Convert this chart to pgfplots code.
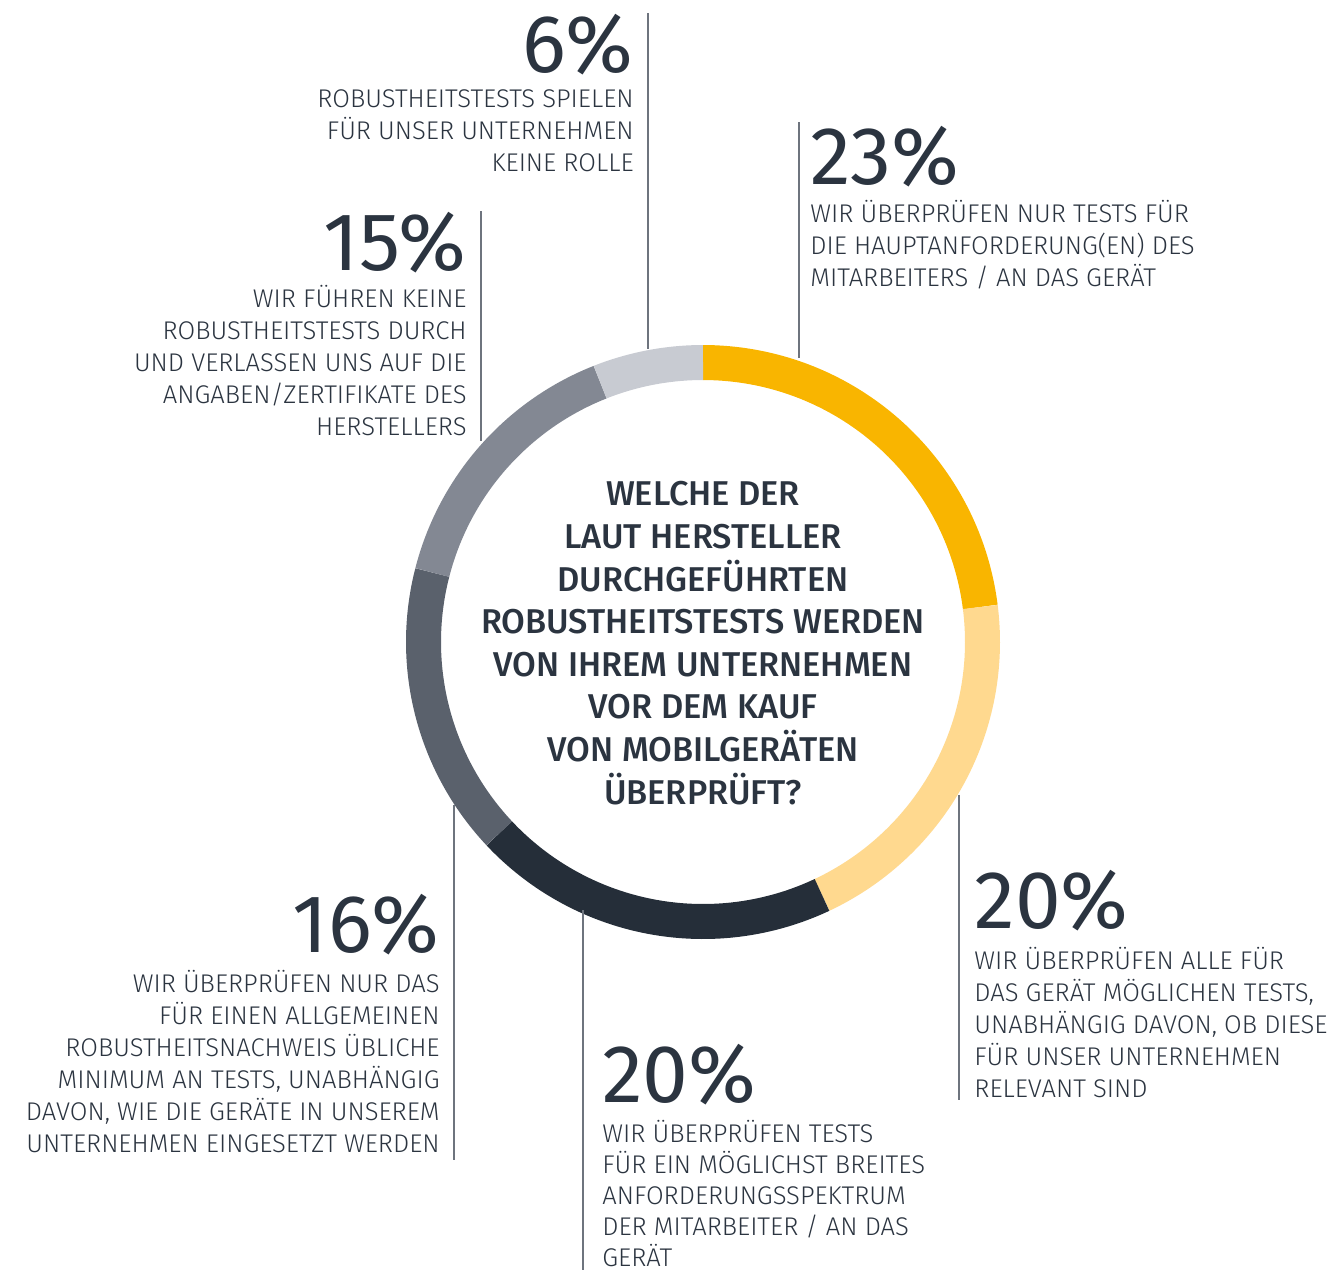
\documentclass[border=0pt]{standalone}
\usepackage{pgfplots}
\pgfplotsset{compat=1.18}
\usepgfplotslibrary{polar}
\usepackage{fontspec}
\setmainfont{Fira Sans}[UprightFont={* Light},BoldFont={* Medium}]
\newfontfamily\numfont{Fira Sans}
\definecolor{cA}{HTML}{F9B500}
\definecolor{cB}{HTML}{FFD98F}
\definecolor{cC}{HTML}{252E39}
\definecolor{cD}{HTML}{5A616C}
\definecolor{cE}{HTML}{838893}
\definecolor{cF}{HTML}{C8CBD2}
\definecolor{txt}{HTML}{2B3440}
\definecolor{ln}{HTML}{6E747E}
\tikzset{lab/.style={inner sep=0pt,text=txt,font=\fontsize{12.8}{16}\selectfont},
 big/.style={inner sep=0pt,text=txt,font=\numfont\fontsize{41}{41}\selectfont},
 ctr/.style={inner sep=0pt,text=txt,font=\bfseries\fontsize{17.2}{20}\selectfont}}
\newcommand\Lr[3]{\node[anchor=base east,lab] at (#1,#2) {#3};}
\newcommand\Ll[3]{\node[anchor=base west,lab] at (#1,#2) {#3};}
\newcommand\Cc[2]{\node[anchor=base,ctr] at (703,#1) {#2};}
\begin{document}
\begin{tikzpicture}
\path[use as bounding box] (0pt,0pt) rectangle (664pt,-635pt);
\begin{polaraxis}[at={(351.5pt,-321pt)},anchor=center,width=297pt,height=297pt,scale only axis,
  hide axis,xmin=0,xmax=360,ymin=0,ymax=297,clip=false]
% shares in percent: 23, 20, 20, 16, 15, 6 (clockwise from top); 1% = 3.6 degrees
\addplot[no markers,line width=17.5pt,color=cA,domain=7.2:90,samples=80] {279.5};
\addplot[no markers,line width=17.5pt,color=cB,domain=-64.8:7.2,samples=80] {279.5};
\addplot[no markers,line width=17.5pt,color=cC,domain=-136.8:-64.8,samples=80] {279.5};
\addplot[no markers,line width=17.5pt,color=cD,domain=-194.4:-136.8,samples=80] {279.5};
\addplot[no markers,line width=17.5pt,color=cE,domain=-248.4:-194.4,samples=80] {279.5};
\addplot[no markers,line width=17.5pt,color=cF,domain=-270:-248.4,samples=30] {279.5};
\end{polaraxis}
\begin{scope}[x=0.5pt,y=-0.5pt]
% leader lines
\draw[ln,line width=1pt] (648,13) -- (648,349);
\draw[ln,line width=1pt] (799,122) -- (799,358);
\draw[ln,line width=1pt] (481,211) -- (481,441);
\draw[ln,line width=1pt] (454,805) -- (454,1160);
\draw[ln,line width=1pt] (959,795) -- (959,1100);
\draw[ln,line width=1pt] (583,910) -- (583,1270);
% 6%
\node[anchor=base east,big] at (634,72) {6\%};
\Lr{634}{107}{ROBUSTHEITSTESTS SPIELEN}
\Lr{634}{139}{FÜR UNSER UNTERNEHMEN}
\Lr{634}{171}{KEINE ROLLE}
% 23%
\node[anchor=base west,big] at (810,184) {23\%};
\Ll{810}{222}{WIR ÜBERPRÜFEN NUR TESTS FÜR}
\Ll{810}{254}{DIE HAUPTANFORDERUNG(EN) DES}
\Ll{810}{286}{MITARBEITERS / AN DAS GERÄT}
% 15%
\node[anchor=base east,big] at (467,270) {15\%};
\Lr{467}{307}{WIR FÜHREN KEINE}
\Lr{467}{339}{ROBUSTHEITSTESTS DURCH}
\Lr{467}{371}{UND VERLASSEN UNS AUF DIE}
\Lr{467}{403}{ANGABEN/ZERTIFIKATE DES}
\Lr{467}{435}{HERSTELLERS}
% 16%
\node[anchor=base east,big] at (440,952) {16\%};
\Lr{440}{992}{WIR ÜBERPRÜFEN NUR DAS}
\Lr{440}{1024}{FÜR EINEN ALLGEMEINEN}
\Lr{440}{1056}{ROBUSTHEITSNACHWEIS ÜBLICHE}
\Lr{440}{1088}{MINIMUM AN TESTS, UNABHÄNGIG}
\Lr{440}{1120}{DAVON, WIE DIE GERÄTE IN UNSEREM}
\Lr{440}{1152}{UNTERNEHMEN EINGESETZT WERDEN}
% 20% right
\node[anchor=base west,big] at (974,928) {20\%};
\Ll{974}{969}{WIR ÜBERPRÜFEN ALLE FÜR}
\Ll{974}{1001}{DAS GERÄT MÖGLICHEN TESTS,}
\Ll{974}{1033}{UNABHÄNGIG DAVON, OB DIESE}
\Ll{974}{1065}{FÜR UNSER UNTERNEHMEN}
\Ll{974}{1097}{RELEVANT SIND}
% 20% bottom
\node[anchor=base west,big] at (602,1102) {20\%};
\Ll{602}{1142}{WIR ÜBERPRÜFEN TESTS}
\Ll{602}{1173}{FÜR EIN MÖGLICHST BREITES}
\Ll{602}{1204}{ANFORDERUNGSSPEKTRUM}
\Ll{602}{1235}{DER MITARBEITER / AN DAS}
\Ll{602}{1266}{GERÄT}
% centre question
\Cc{505}{WELCHE DER}
\Cc{548}{LAUT HERSTELLER}
\Cc{591}{DURCHGEFÜHRTEN}
\Cc{633}{ROBUSTHEITSTESTS WERDEN}
\Cc{676}{VON IHREM UNTERNEHMEN}
\Cc{718}{VOR DEM KAUF}
\Cc{761}{VON MOBILGERÄTEN}
\Cc{804}{ÜBERPRÜFT?}
\end{scope}
\end{tikzpicture}
\end{document}
